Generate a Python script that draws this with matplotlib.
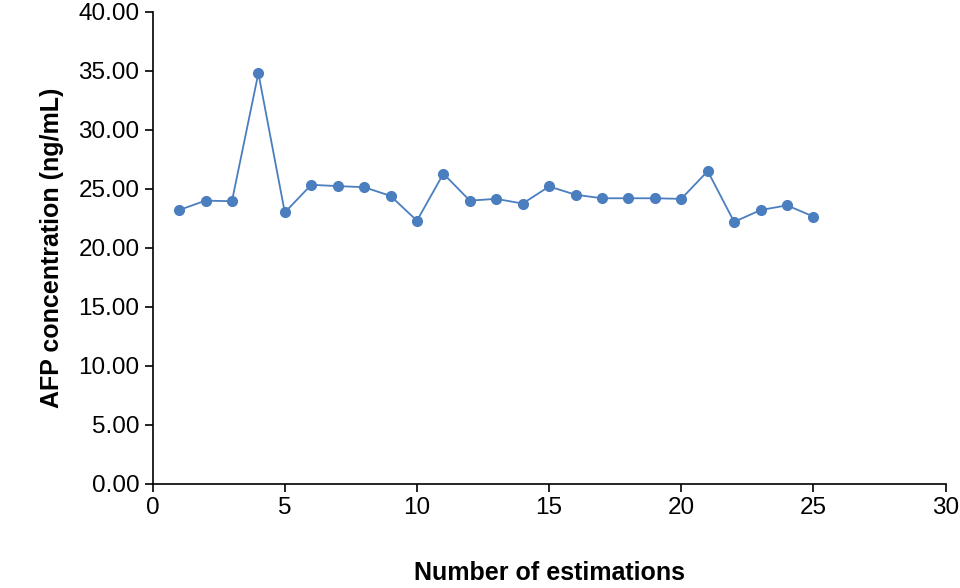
import matplotlib
matplotlib.use("Agg")
import matplotlib.pyplot as plt

# Valores
estimaciones = list(range(1, 26))
afp = [23.2, 24.0, 23.95, 34.8, 23.0, 25.34, 25.23, 25.14, 24.4, 22.3,
       26.28, 24.0, 24.15, 23.75, 25.2, 24.5, 24.2, 24.2, 24.2, 24.15,
       26.5, 22.2, 23.2, 23.6, 22.65]

plt.rcParams['font.family'] = ['Liberation Sans', 'DejaVu Sans']

fig = plt.figure(figsize=(9.6, 5.88), dpi=100)
ax = fig.add_axes([0.159, 0.177, 0.826, 0.803])
ax.plot(estimaciones, afp, color="#4a7ebf", lw=1.3, marker="o", ms=7)

ax.set_xlim(0, 30)
ax.set_ylim(0, 40)
ax.set_xticks(range(0, 31, 5))
ax.set_yticks(range(0, 41, 5))
ax.set_yticklabels([f"{v:.2f}" for v in range(0, 41, 5)])
ax.tick_params(labelsize=17.5, length=6, width=1.2, direction="out")
ax.spines["top"].set_visible(False)
ax.spines["right"].set_visible(False)
ax.spines["left"].set_linewidth(1.2)
ax.spines["bottom"].set_linewidth(1.2)
ax.set_xlabel("Number of estimations", fontsize=18, fontweight="bold", labelpad=30)
ax.set_ylabel("AFP concentration (ng/mL)", fontsize=18, fontweight="bold", labelpad=10)

fig.savefig("out.png", dpi=100)
